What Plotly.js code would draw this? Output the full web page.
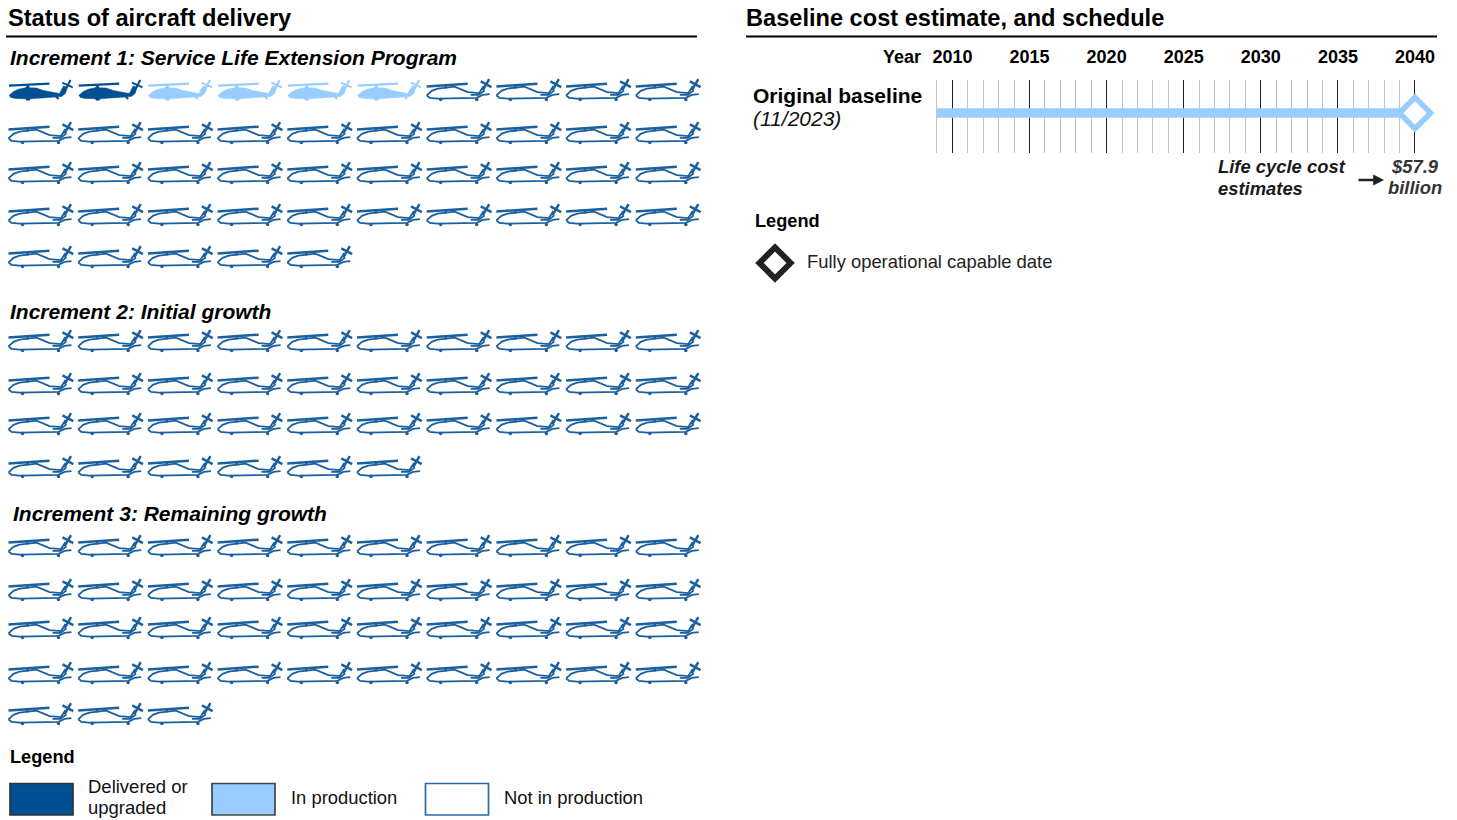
<!DOCTYPE html>
<html><head><meta charset="utf-8"><script src="https://cdn.plot.ly/plotly-3.0.1.min.js"></script>
<style>html,body{margin:0;padding:0;background:#fff}#c{width:1457px;height:820px}</style></head>
<body><div id="c"></div><script>
// ---- data ----
const increments = ["Increment 1: Service Life Extension Program","Increment 2: Initial growth","Increment 3: Remaining growth"];
const delivered = [2,0,0];
const inProduction = [4,0,0];
const notInProduction = [39,36,43];
const years = [2010,2015,2020,2025,2030,2035,2040];
const baselineStart = 2009, baselineEnd = 2040;

// ---- layout constants (pixels) ----
const DARK="#004f93", LIGHT="#99ccff", LINE="#1a5f9e", FONT="Liberation Sans, Arial, sans-serif";
const rowsY = [[90,133,173,215,257],[341,384,424,467],[546,590,628,673,714]];
const colX0 = 8.5, colStep = 69.7, perRow = 10;
const titleY = [57.5,311.5,513.5], titleX=[10,10,13];

// glyph: relative to left edge / row centre line
const filledRotor = [[0.5,-4.3],[41,-6.3]];
const tailA = [[53.7,-7.3],[64.3,-2.7]], tailB = [[62,-10],[56.7,0.7]];
const filledBody = [[0.5,5.5],[5,1.5],[10,-0.8],[17,-2.2],[19,-5],[20,-5],[21,-2.2],[28,-2],[35,0.5],[44,2.5],[51,3.5],[55,-4],[58.5,-3],[57,3.5],[53,6.5],[40,7.5],[22,8.8],[21,10.3],[18,10.3],[17,8.8],[7,8.5],[2,7.5]];
const filledGear = [[47,6],[50,9]];
const outRotor = [[0,-3.6],[41,-6.3]];
const outMast = [[19,-4.6],[19,-1.6]];
const outTailA = [[54,-8.6],[64.8,-2.9]], outTailB = [[62.5,-10.9],[56,0.4]];
const outlineBody = [[0,5.4],[5,0.9],[11,-1.4],[19,-2.4],[28,-3.4],[41,2.1],[52.5,3.1],[57,-4.1]];
const outlineBelly = [[0,5.4],[3,7.8],[11,8.6],[40,8.3],[50,7.8],[56,4.9],[63,4.1]];
const outlineTail = [[44,4.9],[52,4.9],[58,0.4]];
const wheels = [[14,9.6],[50,9.6]];

function placed(seg,x0,y0,out){seg.forEach(p=>{out.x.push(x0+p[0]);out.y.push(y0+p[1]);});out.x.push(null);out.y.push(null);}
function slots(){const res=[];increments.forEach((n,i)=>{const st=[];
  for(let k=0;k<delivered[i];k++)st.push(0);
  for(let k=0;k<inProduction[i];k++)st.push(1);
  for(let k=0;k<notInProduction[i];k++)st.push(2);
  st.forEach((s,j)=>res.push({s,x:colX0+(j%perRow)*colStep,y:rowsY[i][Math.floor(j/perRow)]}));});return res;}
const all=slots();
const traces=[];
function pix(t){return Object.assign({xaxis:"x",yaxis:"y",hoverinfo:"skip",showlegend:false,type:"scatter"},t);}
[[0,DARK],[1,LIGHT]].forEach(([s,col])=>{
  const body={x:[],y:[]},line={x:[],y:[]},rot={x:[],y:[]};
  all.filter(a=>a.s===s).forEach(a=>{placed(filledBody,a.x,a.y,body);placed(filledGear,a.x,a.y,line);placed(tailA,a.x,a.y,line);placed(tailB,a.x,a.y,line);placed(filledRotor,a.x,a.y,rot);});
  traces.push(pix({x:body.x,y:body.y,mode:"lines",fill:"toself",fillcolor:col,line:{color:col,width:0.5}}));
  traces.push(pix({x:line.x,y:line.y,mode:"lines",line:{color:col,width:2}}));
  traces.push(pix({x:rot.x,y:rot.y,mode:"lines",line:{color:col,width:2.2}}));
});
{const thin={x:[],y:[]},rot={x:[],y:[]},w={x:[],y:[]};
 all.filter(a=>a.s===2).forEach(a=>{[outlineBody,outlineBelly,outlineTail].forEach(g=>placed(g,a.x,a.y,thin));
   placed(outMast,a.x,a.y,rot);placed(outTailA,a.x,a.y,rot);placed(outTailB,a.x,a.y,rot);placed(outRotor,a.x,a.y,rot);
   wheels.forEach(p=>{w.x.push(a.x+p[0]);w.y.push(a.y+p[1]);});});
 traces.push(pix({x:thin.x,y:thin.y,mode:"lines",line:{color:LINE,width:1.8}}));
 traces.push(pix({x:rot.x,y:rot.y,mode:"lines",line:{color:LINE,width:2.5}}));
 traces.push(pix({x:w.x,y:w.y,mode:"markers",marker:{color:LINE,size:3.5}}));
}
// timeline
traces.push({xaxis:"x2",yaxis:"y2",type:"scatter",mode:"lines",x:[baselineStart,baselineEnd],y:[0,0],line:{color:LIGHT,width:9.5},hoverinfo:"skip",showlegend:false,cliponaxis:false});
traces.push({xaxis:"x2",yaxis:"y2",type:"scatter",mode:"markers",x:[baselineEnd],y:[0],marker:{symbol:"diamond",size:24,color:"#fff",line:{color:LIGHT,width:5.5}},hoverinfo:"skip",showlegend:false,cliponaxis:false});
// legend diamond
traces.push(pix({mode:"markers",x:[775],y:[263],marker:{symbol:"diamond",size:24,color:"#fff",line:{color:"#222",width:6}},cliponaxis:false}));

function txt(x,y,text,size,color,o){return Object.assign({xref:"x",yref:"y",x,y,text,showarrow:false,xanchor:"left",yanchor:"middle",align:"left",xshift:-2,font:{family:FONT,size,color:color||"#000"}},o||{});}
const ann=[
 txt(8,18,"<b>Status of aircraft delivery</b>",23.6),
 txt(746,18,"<b>Baseline cost estimate, and schedule</b>",23.6),
 ...increments.map((n,i)=>txt(titleX[i],titleY[i],"<b><i>"+n+"</i></b>",21)),
 txt(10,757,"<b>Legend</b>",18.2),
 txt(88,786.5,"Delivered or",18.5,"#111"),
 txt(88,807.5,"upgraded",18.5,"#111"),
 txt(291,797,"In production",18.4,"#111"),
 txt(504,797,"Not in production",18.4,"#111"),
 txt(921,57,"<b>Year</b>",18,"#000",{xanchor:"right",xshift:2}),
 txt(753,95,"<b>Original baseline</b>",21),
 txt(753,118.5,"<i>(11/2023)</i>",21,"#111"),
 txt(1218,166,"<b><i>Life cycle cost</i></b>",18.4,"#1a1a1a"),
 txt(1218,188,"<b><i>estimates</i></b>",18.4,"#1a1a1a"),
 txt(1415,166,"<b><i>$57.9</i></b>",18.4,"#333",{xanchor:"center",xshift:0}),
 txt(1415,187,"<b><i>billion</i></b>",18.4,"#333",{xanchor:"center",xshift:0}),
 txt(755,220.5,"<b>Legend</b>",18.2),
 txt(807,261,"Fully operational capable date",18.4,"#222"),
 {xref:"x",yref:"y",axref:"x",ayref:"y",x:1384,y:180,ax:1357,ay:180,text:"",showarrow:true,arrowhead:2,arrowsize:0.9,arrowwidth:2.4,arrowcolor:"#222"}
];
function sw(x0,fill,stroke){return {type:"rect",xref:"x",yref:"y",x0,x1:x0+63,y0:783.5,y1:815,fillcolor:fill,line:{color:stroke,width:1.7}};}
const shapes=[
 {type:"line",xref:"x",yref:"y",x0:6,x1:697,y0:36.5,y1:36.5,line:{color:"#000",width:2}},
 {type:"line",xref:"x",yref:"y",x0:746,x1:1437,y0:36.5,y1:36.5,line:{color:"#000",width:2}},
 sw(10,DARK,"#333"),sw(212,LIGHT,"#444"),sw(425.5,"#fff","#2a6aa8")
];
const W=1457,H=820;
const pxPerYear=(1415-937)/(baselineEnd-baselineStart);
const layout={width:W,height:H,margin:{l:0,r:0,t:0,b:0},paper_bgcolor:"#fff",plot_bgcolor:"rgba(0,0,0,0)",showlegend:false,
 xaxis:{domain:[0,1],range:[0,W],visible:false,fixedrange:true},
 yaxis:{domain:[0,1],range:[H,0],visible:false,fixedrange:true},
 xaxis2:{domain:[(937-0.2*pxPerYear)/W,(1415+0.1*pxPerYear)/W],range:[baselineStart-0.2,baselineEnd+0.1],anchor:"y2",side:"top",tickmode:"array",tickvals:years,ticktext:years.map(y=>"<b>"+y+"</b>"),
   tickfont:{family:FONT,size:18,color:"#000"},ticks:"",ticklabelstandoff:12,showline:false,zeroline:false,layer:"below traces",
   showgrid:true,gridcolor:"#222",gridwidth:1,
   minor:{tickmode:"array",tickvals:Array.from({length:baselineEnd-baselineStart},(_,i)=>baselineStart+i).filter(y=>!years.includes(y)),showgrid:true,gridcolor:"#c2c2c2",gridwidth:1,ticks:""},fixedrange:true},
 yaxis2:{domain:[1-153/H,1-80/H],range:[-40,33],anchor:"x2",visible:false,fixedrange:true},
 annotations:ann,shapes
};
Plotly.newPlot("c",traces,layout,{displayModeBar:false,staticPlot:true});
</script></body></html>
